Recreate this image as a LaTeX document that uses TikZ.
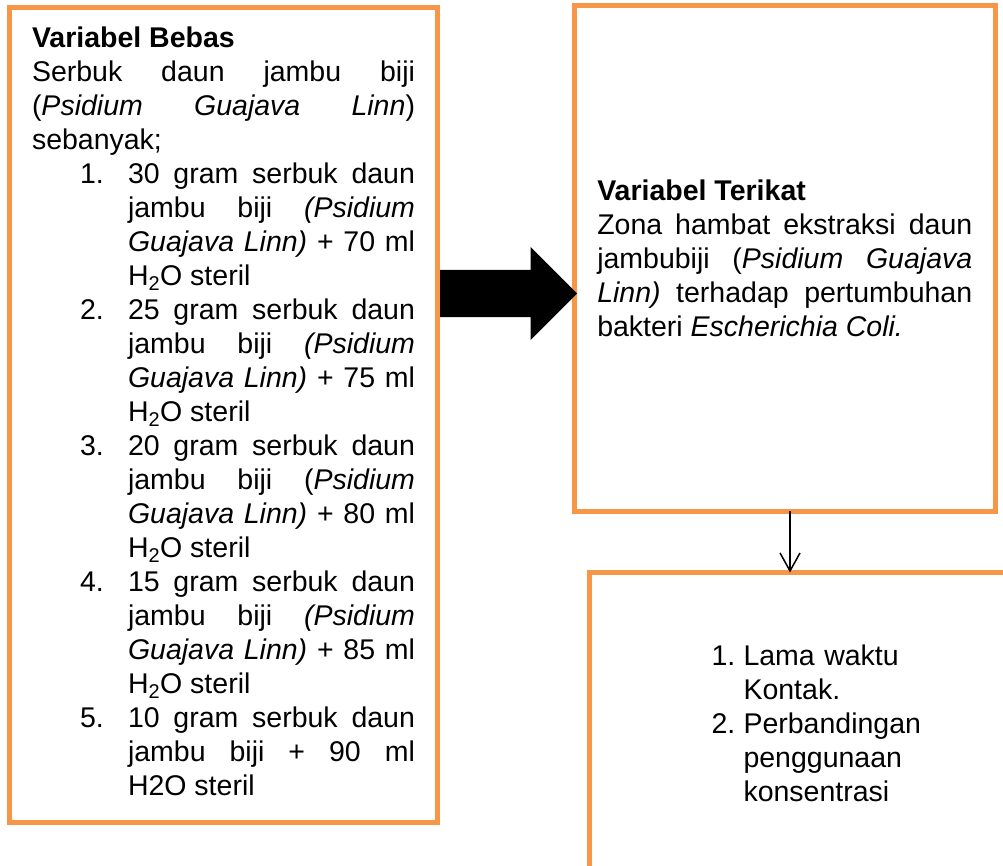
\documentclass[tikz,border=0pt]{standalone}
\usepackage{fontspec}
\setmainfont{Liberation Sans}
\usetikzlibrary{arrows.meta,shapes.arrows}
\definecolor{jingga}{HTML}{F79646}
\newenvironment{daftar}[2]{\begin{list}{\arabic{enumi}.}{\usecounter{enumi}%
  \setlength{\leftmargin}{#1}\setlength{\labelwidth}{#2}\setlength{\labelsep}{0pt}%
  \setlength{\topsep}{0pt}\setlength{\partopsep}{0pt}\setlength{\itemsep}{0pt}\setlength{\parsep}{0pt}%
  \def\makelabel##1{##1\hfil}}}{\end{list}}
\newcommand{\kotak}[7][375]{\node[draw=jingga,line width=5pt,outer sep=0pt,inner sep=0pt,text width=#1pt,align=justify,minimum width=#5pt,minimum height=#6pt] (#2) at (#3,#4) {#7};}
\newcommand{\panah}[2]{\draw[line width=1.5pt,-{Straight Barb[length=18pt,width=20pt]}] (#1) -- (#2);}

\begin{document}
\begin{tikzpicture}[x=1pt,y=-1pt,font=\fontsize{28.5}{34}\selectfont]
    \useasboundingbox (0,0) rectangle (1003,865);
    \kotak[383]{bebas}{223.5}{414.75}{428}{814.5}{\textbf{Variabel Bebas}\\
      Serbuk daun jambu biji\linebreak (\textit{Psidium Guajava Linn})\linebreak sebanyak;
      \begin{daftar}{96pt}{48pt}
      \item 30 gram serbuk daun\linebreak jambu biji \textit{(Psidium\linebreak Guajava Linn)} + 70 ml\linebreak H\textsubscript{2}O steril
      \item 25 gram serbuk daun\linebreak jambu biji \textit{(Psidium\linebreak Guajava Linn)} + 75 ml\linebreak H\textsubscript{2}O steril
      \item 20 gram serbuk daun\linebreak jambu biji (\textit{Psidium\linebreak Guajava Linn)} + 80 ml\linebreak H\textsubscript{2}O steril
      \item 15 gram serbuk daun\linebreak jambu biji \textit{(Psidium\linebreak Guajava Linn)} + 85 ml\linebreak H\textsubscript{2}O steril
      \item 10 gram serbuk daun\linebreak jambu biji + 90 ml\linebreak H2O steril
      \end{daftar}\par\vspace{7pt}\hrule height 0pt}
    \kotak{terikat}{784.75}{258.25}{420.5}{505.5}{\textbf{Variabel Terikat}\\
      Zona hambat ekstraksi daun\linebreak jambubiji (\textit{Psidium Guajava}\linebreak \textit{Linn)} terhadap pertumbuhan\linebreak bakteri \textit{Escherichia Coli.}}
    \kotak{kontrol}{839.5}{772.5}{500}{400}{}
    \node[anchor=base west,text width=252pt,align=left] (faktor) at (708,631) {\begin{daftar}{32pt}{32pt}
      \item Lama waktu Kontak.
      \item Perbandingan penggunaan konsentrasi
      \end{daftar}};
    \node[single arrow,fill=black,inner xsep=0pt,inner ysep=23.5pt,minimum height=137pt,single arrow head extend=23pt,anchor=tail] (panahbesar) at ([xshift=2.5pt,yshift=121.25pt]bebas.east) {};
    \panah{[xshift=5.25pt]terikat.south}{[xshift=-49.5pt]kontrol.north}
\end{tikzpicture}
\end{document}
